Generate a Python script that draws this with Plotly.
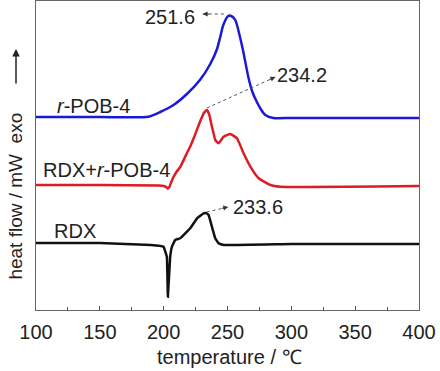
import plotly.graph_objects as go

# ---- data (temperature in °C, heat flow in arbitrary units, exo up) ----
T_pob = [100, 150, 188.1, 197.3, 207.7, 218.2, 228.7, 236.5, 241.8, 244.3, 246.7, 250.6, 253.0,
         256.1, 261.6, 266.3, 269.5, 273.4, 276.5, 279.6, 285.9, 300, 350, 400]
hf_pob = [193, 193, 193.3, 198, 205, 216, 230.5, 246, 261, 273, 285, 294, 294,
          290, 263, 233, 218, 207, 200, 195, 192, 192, 192, 192]

T_mix = [100, 150, 196, 200, 202, 203.2, 204.5, 206, 207.7, 210, 213, 218.2, 220.8, 224.5, 228.7,
         231.5, 233.9, 235.8, 237.8, 239.2, 240.4, 243, 246.9, 252.2, 257.4, 262.6, 267.9, 274.4,
         283.6, 291.4, 400]
hf_mix = [125, 125, 124.5, 124, 123, 121.5, 123, 128, 133, 138, 143, 157, 163.5, 175, 189,
          197, 200, 195, 183.3, 176, 170, 166.7, 173.3, 176, 171.7, 156.7, 143.3, 131.7,
          125, 123.3, 124]

T_rdx = [100, 150, 190, 199.9, 202.5, 203.3, 205.1, 206.5, 209, 213, 220.8, 226.1, 231.3, 233.2,
         235.2, 237.8, 240.4, 243, 246.9, 300, 400]
hf_rdx = [67, 67, 65, 63.3, 53.3, 13.3, 53.3, 63.3, 70, 71.7, 81.7, 91.7, 96.7, 97,
          95, 83.3, 71.7, 66.7, 65, 66, 66]

series_names = ["<i>r</i>-POB-4", "RDX+<i>r</i>-POB-4", "RDX"]
series_colors = ["#1a1ad6", "#dd1c24", "#111111"]
peak_labels = ["251.6", "234.2", "233.6"]
x_ticks = [100, 150, 200, 250, 300, 350, 400]

FONT = "Liberation Sans, Arial, sans-serif"
TXT = "#222222"

fig = go.Figure()
for T, hf, c, sm in zip([T_pob, T_mix, T_rdx], [hf_pob, hf_mix, hf_rdx], series_colors,
                        [0.6, 0.4, 0.2]):
    fig.add_trace(go.Scatter(x=T, y=hf, mode="lines",
                             line=dict(color=c, width=2.5, shape="spline", smoothing=sm),
                             showlegend=False, hoverinfo="skip"))

def peak(T, hf):
    i = max(range(len(hf)), key=lambda k: hf[k])
    return T[i], hf[i]

# dotted leader lines with arrowheads
p_pob = peak(T_pob, hf_pob)
p_mix = peak(T_mix, hf_mix)
p_rdx = peak(T_rdx, hf_rdx)
leaders = [
    ((p_pob[0] - 3.5, p_pob[1] + 2), (230.5, p_pob[1] + 2), 8, 0),
    ((p_mix[0], p_mix[1] + 2), (287.5, 233), -7.3, 3.3),
    ((p_rdx[0] + 0.5, p_rdx[1] + 1), (250.6, 103), -7.8, 1.7),
]
for (x0, y0), (x1, y1), axp, ayp in leaders:
    fig.add_trace(go.Scatter(x=[x0, x1], y=[y0, y1], mode="lines",
                             line=dict(color="#555555", width=1, dash="dot"),
                             showlegend=False, hoverinfo="skip"))
    fig.add_annotation(x=x1, y=y1, ax=axp, ay=ayp, showarrow=True, arrowhead=2,
                       arrowsize=1, arrowwidth=1, arrowcolor="#333333", text="")

# peak value labels
label_pos = [(205.1, 293), (308.7, 235), (274.2, 103)]
for (x, y), t in zip(label_pos, peak_labels):
    fig.add_annotation(x=x, y=y, text=t, showarrow=False, xanchor="center", yanchor="middle",
                       font=dict(family=FONT, size=20, color=TXT))

# series labels
name_pos = [(114.9, 204), (103.9, 140), (112.6, 79)]
for (x, y), t in zip(name_pos, series_names):
    fig.add_annotation(x=x, y=y, text=t, showarrow=False, xanchor="left", yanchor="middle",
                       font=dict(family=FONT, size=20, color=TXT))

# axis titles
fig.add_annotation(xref="paper", yref="paper", x=0.5065, y=-0.152, text="temperature / ℃",
                   showarrow=False, xanchor="center", yanchor="middle",
                   font=dict(family=FONT, size=20, color=TXT))
fig.add_annotation(xref="paper", yref="paper", x=-0.0522, y=0.367,
                   text="heat flow / mW  exo", textangle=-90,
                   showarrow=False, xanchor="center", yanchor="middle",
                   font=dict(family=FONT, size=19, color=TXT))
# "exo" direction arrow
fig.add_annotation(xref="paper", yref="paper", x=-0.0522, y=0.845, ax=0, ay=36,
                   showarrow=True, arrowhead=2, arrowsize=1, arrowwidth=1.5,
                   arrowcolor=TXT, text="")

fig.update_xaxes(range=[100, 400], tickvals=x_ticks, ticks="inside", ticklen=4, tickwidth=1,
                 tickcolor="#555555", minor=dict(dtick=25, ticks="inside", ticklen=3, tickcolor="#555555"),
                 showline=True, linecolor="#666666", linewidth=1, mirror=True,
                 showgrid=False, zeroline=False, automargin=False, ticklabelstandoff=4,
                 tickfont=dict(family=FONT, size=20, color=TXT))
fig.update_yaxes(range=[0, 309], showticklabels=False, ticks="", showline=True,
                 linecolor="#666666", linewidth=1, mirror=True, showgrid=False, zeroline=False,
                 automargin=False)

fig.update_layout(width=440, height=371, margin=dict(l=36, r=21, t=1, b=61, pad=0),
                  plot_bgcolor="white", paper_bgcolor="white")

fig.write_html("out.html", config={"displayModeBar": False},
               post_script="document.body.style.margin='0';")
